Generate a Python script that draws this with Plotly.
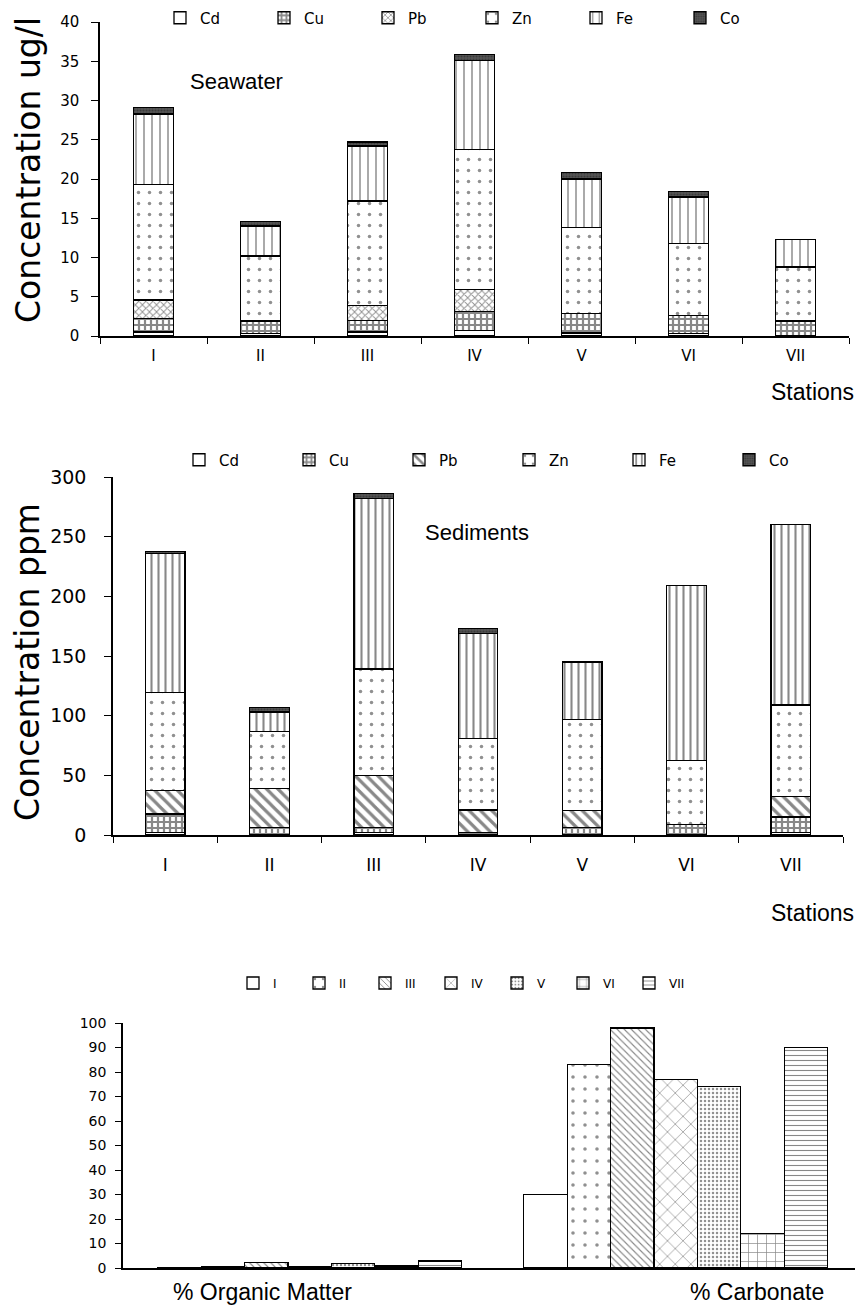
import plotly.graph_objects as go

# ---- data ----
stations = ["I", "II", "III", "IV", "V", "VI", "VII"]
metals = ["Cd", "Cu", "Pb", "Zn", "Fe", "Co"]

# Seawater, ug/l (stacked components per station)
sw_cd = [0.5, 0.3, 0.5, 0.7, 0.4, 0.3, 0.0]
sw_cu = [1.7, 1.6, 1.5, 2.4, 2.5, 2.3, 1.9]
sw_pb = [2.4, 0.0, 1.9, 2.8, 0.0, 0.0, 0.0]
sw_zn = [14.7, 8.3, 13.3, 17.9, 10.9, 9.2, 6.9]
sw_fe = [9.0, 3.8, 7.0, 11.3, 6.2, 5.9, 3.5]
sw_co = [0.8, 0.6, 0.5, 0.8, 0.8, 0.7, 0.0]

# Sediments, ppm
sd_cd = [2.0, 0.0, 2.0, 0.0, 0.0, 0.0, 2.0]
sd_cu = [15.6, 6.0, 4.5, 2.0, 6.5, 9.0, 13.0]
sd_pb = [19.7, 33.0, 43.5, 19.0, 14.0, 0.0, 17.0]
sd_zn = [82.2, 48.0, 89.0, 60.0, 76.5, 53.5, 77.0]
sd_fe = [116.5, 16.0, 143.0, 88.0, 48.0, 146.5, 151.0]
sd_co = [1.5, 4.0, 4.0, 4.0, 0.5, 0.0, 0.0]

# Sediment composition, %
measures = ["% Organic Matter", "% Carbonate"]
organic = [0.2, 0.4, 2.2, 0.6, 1.7, 0.8, 2.8]
carbonate = [30, 83, 98, 77, 74, 14, 90]

W, H = 859, 1315


def px(x):
    return x / W


def py(y):
    return 1 - y / H


SANS = "Liberation Sans, Arial, sans-serif"
WIDE = "DejaVu Sans, Verdana, sans-serif"

# fill styles for the metal stacks
sw_styles = {
    "Cd": dict(shape="", bg="white", fg="black", size=8, sol=0.3),
    "Cu": dict(shape="+", bg="white", fg="#111", size=6, sol=0.6),
    "Pb": dict(shape="x", bg="white", fg="#222", size=5, sol=0.35),
    "Zn": dict(shape=".", bg="white", fg="#222", size=11, sol=0.08),
    "Fe": dict(shape="|", bg="white", fg="#111", size=8, sol=0.18),
    "Co": dict(shape=".", bg="#555555", fg="#222", size=3, sol=0.4),
}
sd_styles = {
    "Cd": dict(shape="", bg="white", fg="black", size=8, sol=0.3),
    "Cu": dict(shape="+", bg="white", fg="#111", size=6, sol=0.6),
    "Pb": dict(shape="\\", bg="white", fg="#111", size=8, sol=0.4),
    "Zn": dict(shape=".", bg="white", fg="#222", size=11, sol=0.08),
    "Fe": dict(shape="|", bg="white", fg="#111", size=7, sol=0.3),
    "Co": dict(shape=".", bg="#555555", fg="#222", size=3, sol=0.4),
}
st_styles = [
    dict(shape="", bg="white", fg="black", size=8, sol=0.3),
    dict(shape=".", bg="white", fg="#222", size=12, sol=0.07),
    dict(shape="\\", bg="white", fg="#111", size=5, sol=0.22),
    dict(shape="x", bg="white", fg="#111", size=11, sol=0.12),
    dict(shape=".", bg="white", fg="#222", size=4, sol=0.3),
    dict(shape="+", bg="white", fg="#111", size=9, sol=0.15),
    dict(shape="-", bg="white", fg="#111", size=5, sol=0.22),
]


def marker(st):
    return dict(
        color=st["bg"],
        line=dict(color="black", width=1.3),
        pattern=dict(shape=st["shape"], fgcolor=st["fg"], bgcolor=st["bg"],
                     size=st["size"], solidity=st["sol"], fillmode="overlay"),
    )


fig = go.Figure()

sw_series = [sw_cd, sw_cu, sw_pb, sw_zn, sw_fe, sw_co]
for name, vals in zip(metals, sw_series):
    fig.add_trace(go.Bar(x=stations, y=vals, name=name, width=0.37,
                         marker=marker(sw_styles[name]),
                         xaxis="x", yaxis="y", legend="legend"))

sd_series = [sd_cd, sd_cu, sd_pb, sd_zn, sd_fe, sd_co]
for name, vals in zip(metals, sd_series):
    fig.add_trace(go.Bar(x=stations, y=vals, name=name, width=0.38,
                         marker=marker(sd_styles[name]),
                         xaxis="x2", yaxis="y2", legend="legend2"))

# grouped bars: one slot per station inside each measure
group_w = 0.83
bw = group_w / len(stations)
for k, name in enumerate(stations):
    off = -group_w / 2 + (k + 0.5) * bw + 0.01
    fig.add_trace(go.Bar(x=[i + off for i in range(len(measures))],
                         y=[organic[k], carbonate[k]], name=name, width=bw,
                         marker=marker(st_styles[k]),
                         xaxis="x3", yaxis="y3", legend="legend3"))

axis_common = dict(showline=True, linecolor="black", linewidth=1.5,
                   showgrid=False, zeroline=False, ticks="outside",
                   tickcolor="black", mirror=False)

legend_common = dict(orientation="h", xanchor="left", yanchor="middle",
                     entrywidthmode="pixels", itemwidth=30,
                     traceorder="normal", bgcolor="rgba(0,0,0,0)")

fig.update_layout(
    width=W, height=H,
    margin=dict(l=0, r=0, t=0, b=0, autoexpand=False),
    paper_bgcolor="white", plot_bgcolor="white",
    barmode="stack",
    font=dict(family=SANS, color="black"),
    xaxis=dict(domain=[px(100), px(849)], anchor="y", type="category",
               tickson="boundaries", ticklen=6, ticklabelstandoff=5,
               tickfont=dict(size=15, family=WIDE), **axis_common),
    yaxis=dict(domain=[py(336), py(22)], anchor="x", range=[0, 40], dtick=5,
               ticklen=7, ticklabelstandoff=9,
               tickfont=dict(size=15, family=WIDE), **axis_common),
    xaxis2=dict(domain=[px(113), px(843)], anchor="y2", type="category",
                tickson="boundaries", ticklen=6, ticklabelstandoff=14,
                tickfont=dict(size=17, family=WIDE), **axis_common),
    yaxis2=dict(domain=[py(835), py(477)], anchor="x2", range=[0, 300], dtick=50,
                ticklen=7, ticklabelstandoff=14,
                tickfont=dict(size=19, family=WIDE), **axis_common),
    xaxis3=dict(domain=[px(123), px(855)], anchor="y3", range=[-0.5, 1.5],
                showticklabels=False, showline=True, linecolor="black",
                linewidth=1.5, showgrid=False, zeroline=False, ticks=""),
    yaxis3=dict(domain=[py(1268), py(1023)], anchor="x3", range=[0, 100],
                dtick=10, ticklen=6, ticklabelstandoff=6,
                tickfont=dict(size=14, family=WIDE), **axis_common),
    legend=dict(x=px(160), y=py(18), font=dict(size=15, family=WIDE),
                entrywidth=59, **legend_common),
    legend2=dict(x=px(179), y=py(460), font=dict(size=15, family=WIDE),
                 entrywidth=65, **legend_common),
    legend3=dict(x=px(233), y=py(983), font=dict(size=12, family=WIDE),
                 entrywidth=21, **legend_common),
)

annos = [
    dict(text="Concentration ug/l", x=px(28), y=py(170), textangle=-90,
         font=dict(size=33, family=WIDE)),
    dict(text="Seawater", x=px(237), y=py(82), font=dict(size=22, family=SANS)),
    dict(text="Stations", x=px(856), y=py(392), xanchor="right",
         font=dict(size=23, family=SANS)),
    dict(text="Concentration ppm", x=px(28), y=py(662), textangle=-90,
         font=dict(size=33, family=WIDE)),
    dict(text="Sediments", x=px(477), y=py(533), font=dict(size=22, family=SANS)),
    dict(text="Stations", x=px(856), y=py(913), xanchor="right",
         font=dict(size=23, family=SANS)),
    dict(text="% Organic Matter", x=px(262), y=py(1292),
         font=dict(size=23, family=SANS)),
    dict(text="% Carbonate", x=px(757), y=py(1292),
         font=dict(size=23, family=SANS)),
]
for a in annos:
    a.setdefault("xanchor", "center")
    fig.add_annotation(xref="paper", yref="paper", showarrow=False,
                       yanchor="middle", **a)

fig.write_html("out.html")
